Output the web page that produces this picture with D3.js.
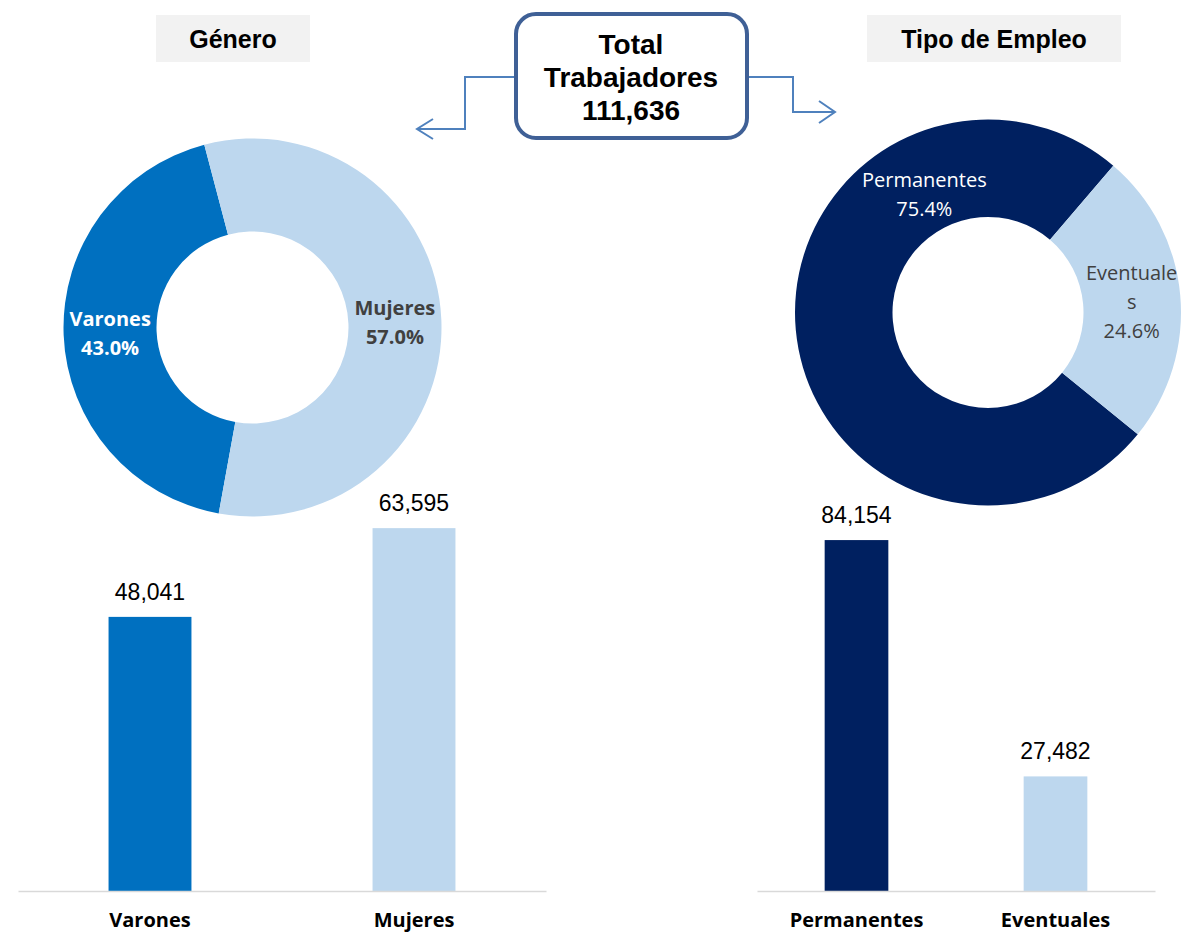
<!DOCTYPE html>
<html>
<head>
<meta charset="utf-8">
<script src="https://cdn.jsdelivr.net/npm/d3@7"></script>
<style>
  html, body { margin: 0; padding: 0; background: #ffffff; }
  svg { display: block; }
</style>
</head>
<body>
<svg id="chart" width="1183" height="934"></svg>
<script>
// ---------- data ----------
const genderTitle = "Género";
const genderCategories = ["Varones", "Mujeres"];
const genderValues = [48041, 63595];

const empTitle = "Tipo de Empleo";
const empCategories = ["Permanentes", "Eventuales"];
const empValues = [84154, 27482];
const empDonutLines = [["Permanentes"], ["Eventuale", "s"]];

const totalTitleLines = ["Total", "Trabajadores"];

// ---------- styles ----------
const genderColors = ["#0070C0", "#BDD7EE"];
const empColors = ["#002060", "#BDD7EE"];
const donutTextColors = ["#FFFFFF", "#404040"];
const calibriLike = "'Open Sans', Calibri, sans-serif";
const arialLike = "'Liberation Sans', Arial, sans-serif";

const svg = d3.select("#chart");
const fmtInt = d3.format(",");
const fmtPct = d3.format(".1%");
const total = d3.sum(genderValues);

// ---------- header boxes ----------
function header(cx, w, label) {
  svg.append("rect").attr("x", cx - w / 2).attr("y", 15).attr("width", w).attr("height", 47)
    .attr("fill", "#F2F2F2");
  svg.append("text").attr("x", cx).attr("y", 48).attr("text-anchor", "middle")
    .attr("font-family", arialLike).attr("font-weight", "bold").attr("font-size", 25)
    .attr("fill", "#000").text(label);
}
header(233, 154, genderTitle);
header(994, 254, empTitle);

// ---------- total box ----------
svg.append("rect").attr("x", 516).attr("y", 14).attr("width", 231).attr("height", 124)
  .attr("rx", 20).attr("ry", 20).attr("fill", "#fff")
  .attr("stroke", "#3F6096").attr("stroke-width", 4);
const totalLines = totalTitleLines.concat([fmtInt(total)]);
svg.append("g").selectAll("text").data(totalLines).join("text")
  .attr("x", 631).attr("y", (d, i) => 54 + i * 33)
  .attr("text-anchor", "middle").attr("font-family", arialLike)
  .attr("font-weight", "bold").attr("font-size", 28).attr("fill", "#000")
  .text(d => d);

// ---------- arrows ----------
const arrowColor = "#4F81BD";
function arrow(lineD, headD) {
  svg.append("path").attr("d", lineD).attr("fill", "none")
    .attr("stroke", arrowColor).attr("stroke-width", 2);
  svg.append("path").attr("d", headD).attr("fill", "none")
    .attr("stroke", arrowColor).attr("stroke-width", 2);
}
arrow("M514,77H465V129H418", "M433,119L417,129L433,139");
arrow("M749,77H793V112H834", "M819,101L835,112L819,123");

// ---------- donuts ----------
function donut(cx, cy, rOuter, rInner, values, colors, startDeg, labelLines, bold, fontSize, labelOffsets) {
  const tot = d3.sum(values);
  const a0 = startDeg * Math.PI / 180;
  const pie = d3.pie().sort(null).startAngle(a0).endAngle(a0 + 2 * Math.PI);
  const arc = d3.arc().innerRadius(rInner).outerRadius(rOuter);
  const g = svg.append("g").attr("transform", `translate(${cx},${cy})`);
  const arcs = pie(values);
  g.selectAll("path").data(arcs).join("path")
    .attr("d", arc).attr("fill", (d, i) => colors[i]);
  arcs.forEach((d, i) => {
    const c = arc.centroid(d);
    const off = labelOffsets[i];
    const lines = labelLines[i].concat([fmtPct(d.data / tot)]);
    const lh = fontSize * 1.45;
    const x = c[0] + off[0];
    const yTop = c[1] + off[1] - (lines.length - 1) * lh / 2 + fontSize * 0.36;
    g.append("g").selectAll("text").data(lines).join("text")
      .attr("x", x).attr("y", (t, j) => yTop + j * lh)
      .attr("text-anchor", "middle")
      .attr("font-family", calibriLike)
      .attr("font-weight", bold ? "bold" : "normal")
      .attr("font-size", fontSize)
      .attr("fill", donutTextColors[i])
      .text(t => t);
  });
}
donut(252.5, 327.5, 189, 96, genderValues, genderColors, 190.3,
  genderCategories.map(d => [d]), true, 20, [[0, 0], [0, 0]]);
donut(988, 312.5, 193, 95.5, empValues, empColors, 129.1,
  empDonutLines, false, 20, [[80, -131], [0, 2]]);

// ---------- bar charts ----------
function bars(x0, x1, baseY, maxVal, topY, cats, values, colors, padInner) {
  const x = d3.scaleBand().domain(cats).range([x0, x1])
    .paddingInner(padInner).paddingOuter(padInner / 2);
  const y = d3.scaleLinear().domain([0, maxVal]).range([baseY, topY]);
  const g = svg.append("g");
  g.selectAll("rect").data(values).join("rect")
    .attr("x", (d, i) => x(cats[i])).attr("width", x.bandwidth())
    .attr("y", d => y(d)).attr("height", d => baseY - y(d))
    .attr("fill", (d, i) => colors[i]);
  g.selectAll("text.val").data(values).join("text").attr("class", "val")
    .attr("x", (d, i) => x(cats[i]) + x.bandwidth() / 2)
    .attr("y", d => y(d) - 17)
    .attr("text-anchor", "middle").attr("font-family", arialLike)
    .attr("font-size", 23).attr("fill", "#000")
    .text(d => fmtInt(d));
  const axis = d3.axisBottom(x).tickSize(0).tickSizeOuter(0).tickPadding(22);
  const ag = svg.append("g").attr("transform", `translate(0,${baseY})`).call(axis);
  ag.select(".domain").attr("stroke", "#D9D9D9").attr("stroke-width", 1.5);
  ag.selectAll(".tick text").attr("font-family", calibriLike).attr("font-weight", "bold")
    .attr("font-size", 20).attr("fill", "#000").attr("dy", "0.71em");
}
bars(18, 546, 891, 70000, 891 - 70000 * 0.005706, genderCategories, genderValues, genderColors, 0.686);
bars(757, 1155, 891, 100000, 891 - 100000 * 0.00417, empCategories, empValues, empColors, 0.68);
</script>
</body>
</html>
